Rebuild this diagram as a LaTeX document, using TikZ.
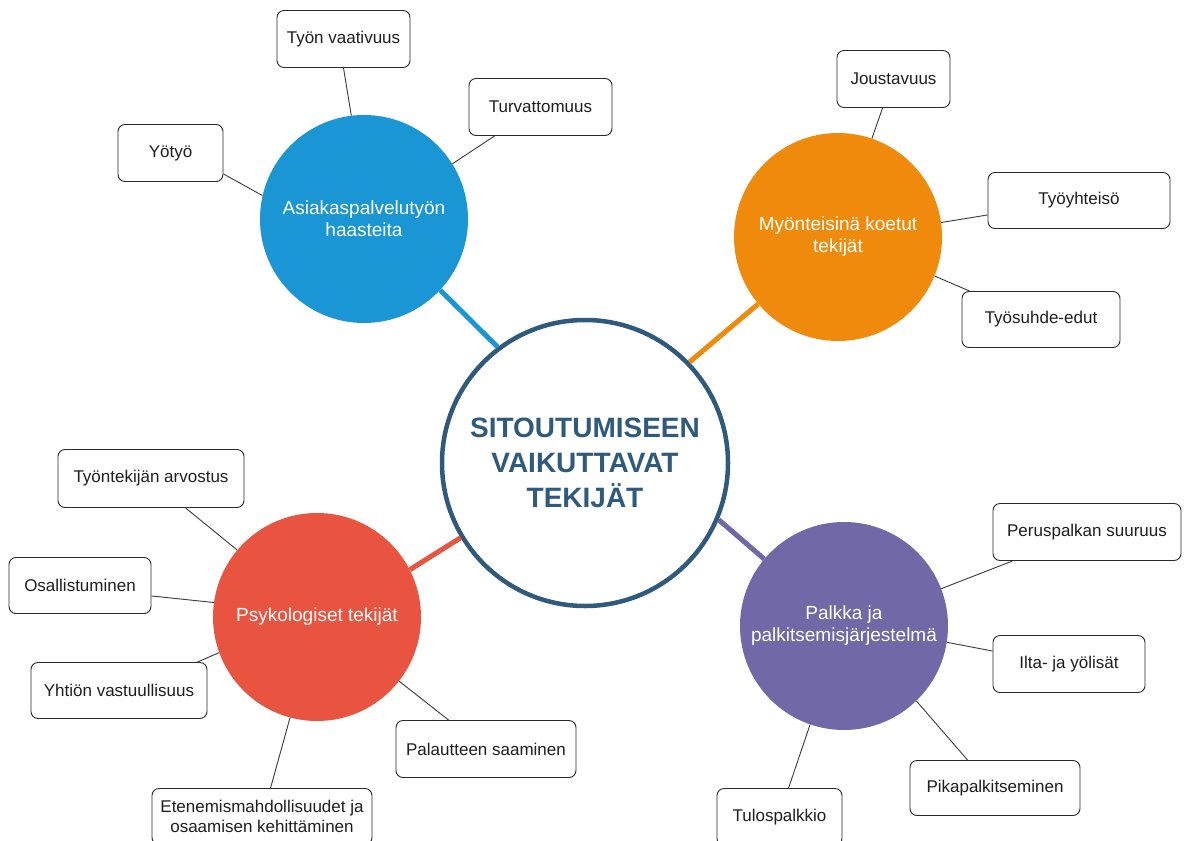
\documentclass[tikz,border=0pt]{standalone}
\usepackage{fontspec}
\setmainfont{Liberation Sans}
\usetikzlibrary{calc}
\definecolor{mainblue}{HTML}{2F5A7D}
\definecolor{hubblue}{HTML}{1A96D4}
\definecolor{huborange}{HTML}{F08A0C}
\definecolor{hubred}{HTML}{E8543F}
\definecolor{hubpurple}{HTML}{7168A8}
\definecolor{boxline}{HTML}{2A2A2A}
\definecolor{linegray}{HTML}{3A3A3A}
\definecolor{textdark}{HTML}{1E1E1E}
\begin{document}
\begin{tikzpicture}[x=1pt,y=-1pt,
  leaf/.style={draw=boxline, rounded corners=7pt, line width=0.9pt, fill=white,
    font=\fontsize{17}{20}\selectfont, text=textdark, align=center, inner sep=0pt},
  hub/.style={circle, inner sep=0pt, minimum size=208pt, text=white, align=center,
    font=\fontsize{19}{22}\selectfont},
  thinline/.style={draw=linegray, line width=0.9pt},
  thickline/.style={line width=5pt}]
\useasboundingbox (0,0) rectangle (1187,841);
\clip (0,0) rectangle (1187,841);
\fill[white] (0,0) rectangle (1187,841);

% centre
\node[circle, draw=mainblue, line width=4.5pt, fill=white, minimum size=286pt, inner sep=0pt,
  text=mainblue, align=center, font=\fontsize{28}{35}\selectfont\bfseries] (m) at (585,463)
  {SITOUTUMISEEN\\VAIKUTTAVAT\\TEKIJÄT};

% hubs
\node[hub, fill=hubblue] (b) at (364,219) {Asiakaspalvelutyön\\haasteita};
\node[hub, fill=huborange] (o) at (838,237) {Myönteisinä koetut\\tekijät};
\node[hub, fill=hubred] (r) at (317,617) {Psykologiset tekijät};
\node[hub, fill=hubpurple] (p) at (844,626) {Palkka ja\\palkitsemisjärjestelmä};

% thick connectors
\draw[thickline, hubblue] (m.127.4) -- (b.-43.8);
\draw[thickline, huborange] (m.44.2) -- (o.220.4);
\draw[thickline, hubred] (m.211.8) -- (r.27.8);
\draw[thickline, hubpurple] (m.-23.6) -- (p.140);

% leaves
\node[leaf, minimum width=133pt, minimum height=57pt] (tv) at (343.5,39) {Työn vaativuus};
\node[leaf, minimum width=143pt, minimum height=57pt] (tu) at (540.5,107) {Turvattomuus};
\node[leaf, minimum width=105pt, minimum height=57pt] (yo) at (170.5,153) {Yötyö};

\node[leaf, minimum width=113pt, minimum height=57pt] (jo) at (893.5,79) {Joustavuus};
\node[leaf, minimum width=182pt, minimum height=56pt] (ty) at (1079,200.5) {Työyhteisö};
\node[leaf, minimum width=158pt, minimum height=56pt] (ts) at (1041,319.5) {Työsuhde-edut};

\node[leaf, minimum width=186pt, minimum height=58pt] (ta) at (151,478.5) {Työntekijän arvostus};
\node[leaf, minimum width=142pt, minimum height=56pt] (os) at (80,585.5) {Osallistuminen};
\node[leaf, minimum width=176pt, minimum height=56pt] (yv) at (119,690.5) {Yhtiön vastuullisuus};
\node[leaf, minimum width=180pt, minimum height=57pt] (ps) at (486,749) {Palautteen saaminen};
\node[leaf, minimum width=220pt, minimum height=56pt] (et) at (262,816.5) {Etenemismahdollisuudet ja\\osaamisen kehittäminen};

\node[leaf, minimum width=188pt, minimum height=57pt] (pe) at (1087,532) {Peruspalkan suuruus};
\node[leaf, minimum width=152pt, minimum height=57pt] (il) at (1069,664) {Ilta- ja yölisät};
\node[leaf, minimum width=170pt, minimum height=55pt] (pk) at (995,788) {Pikapalkitseminen};
\node[leaf, minimum width=125pt, minimum height=57pt] (tp) at (779.5,817) {Tulospalkkio};

% thin connectors
\draw[thinline] (tv.south) -- (b.97.7);
\draw[thinline] ($(tu.south west)+(26,0)$) -- (b.32.6);
\draw[thinline] ($(yo.south east)+(0,-8)$) -- (b.167.8);

\draw[thinline] ($(jo.south west)+(46,0)$) -- (o.71);
\draw[thinline] ($(ty.south west)+(0,-14)$) -- (o.8.2);
\draw[thinline] ($(ts.north west)+(8,0)$) -- (o.-22);

\draw[thinline] ($(ta.south west)+(128,0)$) -- (r.140);
\draw[thinline] ($(os.south east)+(0,-18)$) -- (r.172);
\draw[thinline] ($(yv.north east)+(-10,0)$) -- (r.200);
\draw[thinline] ($(ps.north west)+(53,0)$) -- (r.-38.5);
\draw[thinline] ($(et.north west)+(119,0)$) -- (r.255);

\draw[thinline] ($(pe.south west)+(20,0)$) -- (p.21.7);
\draw[thinline] ($(il.north west)+(0,16)$) -- (p.-9.4);
\draw[thinline] ($(pk.north west)+(58,0)$) -- (p.-46);
\draw[thinline] ($(tp.north west)+(72,0)$) -- (p.-109);
\end{tikzpicture}
\end{document}
